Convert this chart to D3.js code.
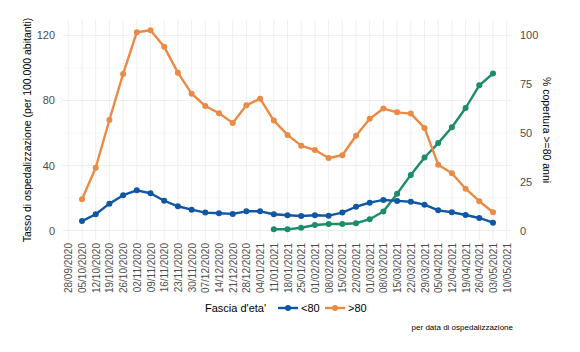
<!DOCTYPE html>
<html>
<head>
<meta charset="utf-8">
<script src="https://cdn.jsdelivr.net/npm/d3@7"></script>
<style>
  body { margin: 0; background: #fff; }
  svg { font-family: "Liberation Sans", Arial, sans-serif; }
</style>
</head>
<body>
<div id="chart"></div>
<script>

// weekly tick labels on the x axis
const tickLabels = ["28/09/2020","05/10/2020","12/10/2020","19/10/2020","26/10/2020","02/11/2020",
    "09/11/2020","16/11/2020","23/11/2020","30/11/2020","07/12/2020","14/12/2020","21/12/2020",
    "28/12/2020","04/01/2021","11/01/2021","18/01/2021","25/01/2021","01/02/2021","08/02/2021",
    "15/02/2021","22/02/2021","01/03/2021","08/03/2021","15/03/2021","22/03/2021","29/03/2021",
    "05/04/2021","12/04/2021","19/04/2021","26/04/2021","03/05/2021","10/05/2021"];

// hospitalisation rate, weeks 05/10/2020 .. 03/05/2021
const under80 = [5.8, 10, 16.5, 21.7, 24.7, 22.9, 18.3, 14.9, 12.8, 11, 10.6, 10.2, 11.8, 11.8, 10,
    9.4, 8.9, 9.4, 9.1, 11, 14.6, 17.1, 18.8, 18.2, 17.7, 15.9, 12.4, 11.2, 9.5, 7.7, 4.8];
const over80 = [19.2, 38.6, 68, 96.3, 122, 123.2, 113, 97.1, 84.2, 76.6, 72.1, 66.2, 77, 81.1, 67.6,
    58.8, 52.2, 49.5, 44.6, 46.3, 58.3, 68.8, 75, 72.7, 71.9, 63.1, 40.5, 35.2, 25.7, 18, 11.2];
// vaccine coverage >=80 (%), weeks 11/01/2021 .. 03/05/2021
const coverage = [0.6, 0.6, 1.4, 2.8, 3.3, 3.3, 3.7, 5.8, 9.7, 18.8, 28.5, 37.4, 44.8, 52.9, 62.8, 74.4, 80.5];

const leftTicks = [0, 40, 80, 120];
const rightTicks = [0, 25, 50, 75, 100];

const parse = d3.timeParse("%d/%m/%Y");
const dates = tickLabels.map(parse);

const width = 580, height = 352;
const svg = d3.select("#chart").append("svg")
    .attr("width", width)
    .attr("height", height);

svg.append("rect").attr("width", width).attr("height", height).attr("fill", "#fff");

const panel = {left: 62, right: 511, top: 20, bottom: 240};

const x = d3.scaleTime()
    .domain([dates[0], dates[dates.length - 1]])
    .range([68.3, 506.7]);

const y = d3.scaleLinear()
    .domain([-5.85, 129.5])
    .range([panel.bottom, panel.top]);

// secondary axis: 100% lines up with 120
const yR = d3.scaleLinear()
    .domain([-5.85 / 1.2, 129.5 / 1.2])
    .range([panel.bottom, panel.top]);

// grid
const grid = svg.append("g");
[20, 60, 100].forEach(v => {
    grid.append("line")
        .attr("x1", panel.left).attr("x2", panel.right)
        .attr("y1", y(v)).attr("y2", y(v))
        .attr("stroke", "#f4f4f4").attr("stroke-width", 0.6);
});
leftTicks.forEach(v => {
    grid.append("line")
        .attr("x1", panel.left).attr("x2", panel.right)
        .attr("y1", y(v)).attr("y2", y(v))
        .attr("stroke", "#ebebeb").attr("stroke-width", 0.8);
});
dates.forEach(d => {
    grid.append("line")
        .attr("x1", x(d)).attr("x2", x(d))
        .attr("y1", panel.top).attr("y2", panel.bottom)
        .attr("stroke", "#ebebeb").attr("stroke-width", 0.8);
});

// axes
const xAxis = d3.axisBottom(x)
    .tickValues(dates)
    .tickFormat(d3.timeFormat("%d/%m/%Y"))
    .tickSize(0);

const gx = svg.append("g")
    .attr("transform", "translate(0," + panel.bottom + ")")
    .call(xAxis);
gx.select(".domain").remove();
gx.selectAll("text")
    .attr("transform", "rotate(-90)")
    .attr("x", -3)
    .attr("y", 0)
    .attr("dy", "0.35em")
    .style("text-anchor", "end")
    .attr("fill", "#4d4d4d")
    .style("font-size", "10px");

const gy = svg.append("g")
    .attr("transform", "translate(" + (panel.left - 4) + ",0)")
    .call(d3.axisLeft(y).tickValues(leftTicks).tickSize(0));
gy.select(".domain").remove();
gy.selectAll("text").attr("fill", "#4d4d4d").style("font-size", "11px");

const gr = svg.append("g")
    .attr("transform", "translate(" + (panel.right + 6) + ",0)")
    .call(d3.axisRight(yR).tickValues(rightTicks).tickSize(0));
gr.select(".domain").remove();
gr.selectAll("text").attr("fill", "#4d4d4d").style("font-size", "11px");

// axis titles
svg.append("text")
    .attr("transform", "translate(31," + ((panel.top + panel.bottom) / 2) + ") rotate(-90)")
    .attr("text-anchor", "middle")
    .style("font-size", "10.5px")
    .attr("fill", "#000")
    .text("Tasso di ospedalizzazione (per 100.000 abitanti)");

svg.append("text")
    .attr("transform", "translate(543," + ((panel.top + panel.bottom) / 2) + ") rotate(90)")
    .attr("text-anchor", "middle")
    .style("font-size", "10.5px")
    .attr("fill", "#000")
    .text("% copertura >=80 anni");

// series
const colors = {under: "#0f57a3", over: "#eb8a44", cov: "#1d8c6a"};
const hospDates = dates.slice(1, 32);
const covDates = dates.slice(15, 32);

function drawSeries(values, ds, scale, color) {
    const pts = values.map((v, i) => ({date: ds[i], v: v}));
    const line = d3.line()
        .x(d => x(d.date))
        .y(d => scale(d.v));
    const g = svg.append("g");
    g.append("path")
        .datum(pts)
        .attr("d", line)
        .attr("fill", "none")
        .attr("stroke", color)
        .attr("stroke-width", 2.4)
        .attr("stroke-linejoin", "round");
    g.selectAll("circle")
        .data(pts)
        .enter()
        .append("circle")
        .attr("cx", d => x(d.date))
        .attr("cy", d => scale(d.v))
        .attr("r", 3)
        .attr("fill", color);
}

drawSeries(coverage, covDates, yR, colors.cov);
drawSeries(under80, hospDates, y, colors.under);
drawSeries(over80, hospDates, y, colors.over);

// legend
const legend = svg.append("g").attr("transform", "translate(0,308)");
legend.append("text")
    .attr("x", 205).attr("dy", "0.35em")
    .style("font-size", "11px")
    .text("Fascia d'eta'");

const keys = [
    {label: "<80", color: colors.under, x: 278},
    {label: ">80", color: colors.over, x: 325}
];
keys.forEach(k => {
    legend.append("line")
        .attr("x1", k.x).attr("x2", k.x + 20)
        .attr("stroke", k.color).attr("stroke-width", 2.4);
    legend.append("circle")
        .attr("cx", k.x + 10).attr("r", 3).attr("fill", k.color);
    legend.append("text")
        .attr("x", k.x + 23).attr("dy", "0.35em")
        .style("font-size", "11px")
        .text(k.label);
});

// caption
svg.append("text")
    .attr("x", 513).attr("y", 330)
    .attr("text-anchor", "end")
    .style("font-size", "8px")
    .text("per data di ospedalizzazione");

</script>
</body>
</html>
